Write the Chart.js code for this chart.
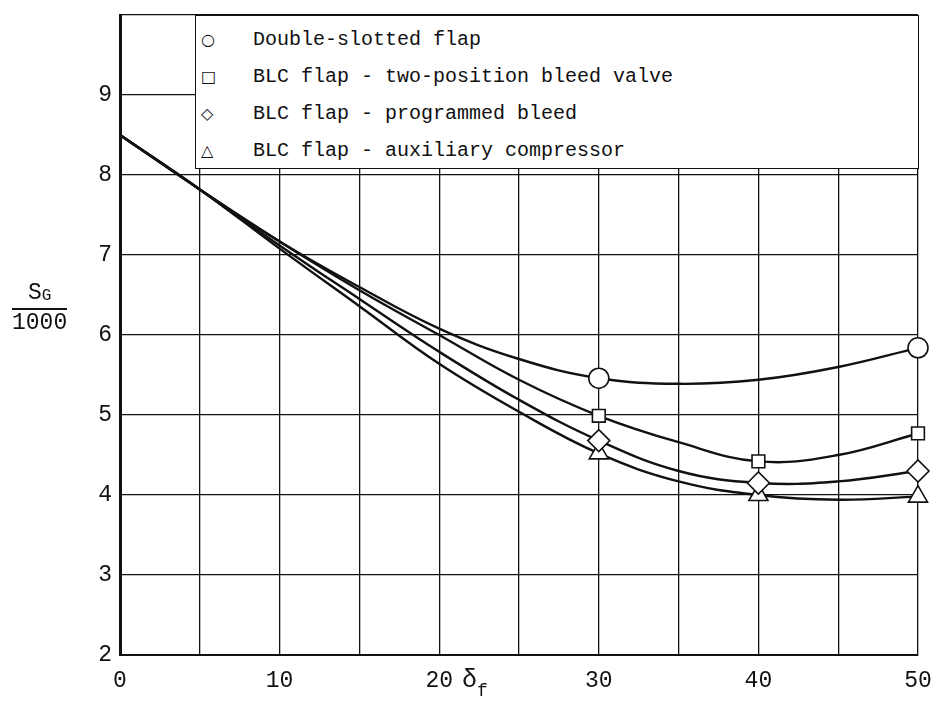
<!DOCTYPE html>
<html>
<head>
<meta charset="utf-8">
<script src="https://cdn.jsdelivr.net/npm/chart.js@4/dist/chart.umd.min.js"></script>
<style>
    html, body { margin: 0; padding: 0; background: #fff; }
    #wrap { position: relative; width: 934px; height: 713px; }
    #chart { display: block; }
    .mono { font-family: "Liberation Mono", "DejaVu Sans Mono", monospace; color: #111; }
    #legend-box {
        position: absolute; background: #fff; border: 1.5px solid #111;
        box-sizing: border-box; padding: 5px 0 0 3px;
    }
    #legend-box .row { height: 37px; line-height: 37px; font-size: 20px; white-space: pre; }
    #legend-box .sym { display: inline-block; width: 52px; text-align: left; font-family: "DejaVu Sans", sans-serif; font-size: 16px; padding-left: 2px; }
    #y-title { position: absolute; left: 12px; top: 280px; text-align: center; font-size: 23px; }
    #y-title .num { border-bottom: 2px solid #111; padding: 0 2px 2px 2px; }
    #y-title sub { font-size: 16px; vertical-align: -1px; }
    #x-title { position: absolute; left: 462px; top: 666px; font-size: 25px; }
    #x-title sub { font-size: 18px; vertical-align: -9px; }
</style>
</head>
<body>
<div id="wrap">
    <canvas id="chart" width="934" height="713"></canvas>
    <div id="legend-box" class="mono"></div>
    <div id="y-title" class="mono"><div class="num">S<sub>G</sub></div><div>1000</div></div>
    <div id="x-title" class="mono">δ<sub>f</sub></div>
</div>
<script>
// Flap deflection (deg) where the faired curves were read
const fairX = [0, 5, 10, 15, 20, 25, 30, 35, 40, 45, 50];

// Faired curves, SG/1000
const doubleSlottedCurve = [8.5, 7.82, 7.17, 6.6, 6.08, 5.7, 5.46, 5.39, 5.44, 5.6, 5.84];
const twoPositionCurve   = [8.5, 7.82, 7.17, 6.56, 6.0, 5.44, 4.99, 4.66, 4.42, 4.5, 4.77];
const programmedCurve    = [8.5, 7.82, 7.12, 6.45, 5.79, 5.19, 4.68, 4.3, 4.15, 4.17, 4.3];
const auxCompressorCurve = [8.5, 7.82, 7.08, 6.36, 5.64, 5.04, 4.52, 4.17, 4.0, 3.94, 3.98];

// Test points
const doubleSlottedX = [30, 50];
const doubleSlottedPts = [5.46, 5.84];
const blcX = [30, 40, 50];
const twoPositionPts = [4.99, 4.42, 4.77];
const programmedPts = [4.68, 4.15, 4.3];
const auxCompressorPts = [4.52, 4.0, 3.98];

const seriesNames = [
    'Double-slotted flap',
    'BLC flap - two-position bleed valve',
    'BLC flap - programmed bleed',
    'BLC flap - auxiliary compressor'
];
const seriesSymbols = ['○', '□', '◇', '△'];
const markerStyles = ['circle', 'rect', 'rectRot', 'triangle'];

const xTicks = [0, 10, 20, 30, 40, 50];
const yTicks = [2, 3, 4, 5, 6, 7, 8, 9];

const INK = '#111';
const FONT = '"Liberation Mono", "DejaVu Sans Mono", monospace';

function pairs(xs, ys) {
    return xs.map((x, i) => ({ x: x, y: ys[i] }));
}

function markerSet(xs, ys, idx, radius) {
    return {
        label: seriesNames[idx],
        data: pairs(xs, ys),
        showLine: false,
        pointStyle: markerStyles[idx],
        pointRadius: radius,
        pointBackgroundColor: '#fff',
        pointBorderColor: INK,
        pointBorderWidth: 1.6,
        clip: false
    };
}

function curveSet(ys, idx) {
    return {
        label: seriesNames[idx] + ' (faired)',
        data: pairs(fairX, ys),
        showLine: true,
        borderColor: INK,
        borderWidth: 2.4,
        pointRadius: 0,
        tension: 0.4,
        fill: false
    };
}

// Markers go first so they sit on top of the lines
const datasets = [
    markerSet(doubleSlottedX, doubleSlottedPts, 0, 10),
    markerSet(blcX, twoPositionPts, 1, 9),
    markerSet(blcX, programmedPts, 2, 11),
    markerSet(blcX, auxCompressorPts, 3, 11),
    curveSet(doubleSlottedCurve, 0),
    curveSet(twoPositionCurve, 1),
    curveSet(programmedCurve, 2),
    curveSet(auxCompressorCurve, 3)
];

// Legend box drawn as html inside the plot area
const legendBox = document.getElementById('legend-box');
seriesNames.forEach((name, i) => {
    const row = document.createElement('div');
    row.className = 'row';
    row.innerHTML = `<span class="sym">${seriesSymbols[i]}</span>${name}`;
    legendBox.appendChild(row);
});

const placeLegend = {
    id: 'placeLegend',
    afterRender(chart) {
        const area = chart.chartArea;
        const x = chart.scales.x;
        const y = chart.scales.y;
        const left = x.getPixelForValue(4.7);
        const bottom = y.getPixelForValue(8.08);
        legendBox.style.left = left + 'px';
        legendBox.style.top = area.top + 'px';
        legendBox.style.width = (area.right - left + 1) + 'px';
        legendBox.style.height = (bottom - area.top) + 'px';
    }
};

const ctx = document.getElementById('chart').getContext('2d');
new Chart(ctx, {
    type: 'scatter',
    data: { datasets: datasets },
    options: {
        responsive: false,
        animation: false,
        layout: { padding: { left: 0, right: 16, top: 15, bottom: 0 } },
        plugins: {
            legend: { display: false },
            tooltip: { enabled: false }
        },
        scales: {
            x: {
                type: 'linear',
                min: 0,
                max: 50,
                afterFit: (scale) => {
                    scale.height = 58;
                    scale.paddingLeft = 0;
                    scale.paddingRight = 0;
                },
                grid: { color: INK, lineWidth: 1.3, drawTicks: false },
                border: { color: INK, width: 2 },
                ticks: {
                    stepSize: 5,
                    padding: 12,
                    color: INK,
                    font: { family: FONT, size: 23 },
                    callback: (v) => xTicks.includes(v) ? String(v) : ''
                }
            },
            y: {
                type: 'linear',
                min: 2,
                max: 10,
                afterFit: (scale) => {
                    scale.width = 120;
                    scale.paddingTop = 0;
                    scale.paddingBottom = 0;
                },
                grid: { color: INK, lineWidth: 1.3, drawTicks: false },
                border: { color: INK, width: 3 },
                ticks: {
                    stepSize: 1,
                    padding: 8,
                    color: INK,
                    font: { family: FONT, size: 23 },
                    callback: (v) => yTicks.includes(v) ? String(v) : ''
                }
            }
        }
    },
    plugins: [placeLegend]
});
</script>
</body>
</html>
